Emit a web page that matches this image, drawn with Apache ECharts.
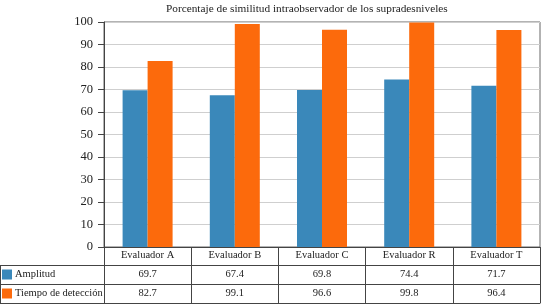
<!DOCTYPE html>
<html lang="es">
<head>
    <meta charset="UTF-8">
    <title>Porcentaje de similitud</title>
    <script src="https://cdn.jsdelivr.net/npm/echarts@6/dist/echarts.min.js"></script>
    <style>
        *{margin:0;padding:0;box-sizing:border-box;}
        html,body{width:542px;height:307px;background:#fff;overflow:hidden;}
        #main{width:542px;height:307px;}
    </style>
</head>
<body>
<div id="main"></div>
<script>
    // datos
    var evaluadores = ["Evaluador A","Evaluador B","Evaluador C","Evaluador R","Evaluador T"]
    var amplitud = [69.7, 67.4, 69.8, 74.4, 71.7]
    var tiempo = [82.7, 99.1, 96.6, 99.8, 96.4]
    var serieNombres = ["Amplitud", "Tiempo de detección"]
    var colores = ["#3A88BA", "#FC6A0C"]

    var fuente = "Liberation Serif"
    var lineaTabla = "#444"
    var filaH = 19   // alto de cada fila de la tabla

    var myChart = echarts.init(document.getElementById("main"))

    // cada fila de la tabla es un eje x desplazado hacia abajo
    function filaEje(offset, labels, margin) {
        return {
            type: "category",
            data: evaluadores,
            position: "bottom",
            offset: offset,
            axisLine: {show: true, lineStyle: {color: lineaTabla, width: 1}},
            axisTick: {show: labels !== null, length: filaH, interval: 0, lineStyle: {color: lineaTabla}},
            axisLabel: labels === null ? {show: false} : {
                show: true, interval: 0, margin: margin,
                fontFamily: fuente, fontSize: 10.5, color: "#222",
                formatter: function (v, i) { return labels ? labels[i].toFixed(1) : v }
            },
            splitLine: {show: false}
        }
    }

    function leyenda(i, top) {
        return {
            data: [serieNombres[i]],
            left: 2, top: top, padding: 0,
            itemWidth: 10, itemHeight: 10,
            icon: "rect",
            textStyle: {fontFamily: fuente, fontSize: 10.5, color: "#222", padding: [0, 0, 0, -2]},
            selectedMode: false
        }
    }

    var option = {
        animation: false,
        title: {
            text: "Porcentaje de similitud intraobservador de los supradesniveles",
            left: 166, top: 4, padding: 0,
            textStyle: {fontFamily: fuente, fontSize: 11.3, fontWeight: "normal", color: "#222"}
        },
        legend: [leyenda(0, 269), leyenda(1, 288)],
        grid: {
            left: 104, right: 2, top: 22, bottom: 60,
            show: true, borderColor: "#666", borderWidth: 1
        },
        xAxis: [
            filaEje(0, false, 3),
            filaEje(filaH - 1, amplitud, 4),
            filaEje(2 * filaH - 1, tiempo, 4),
            filaEje(3 * filaH - 1, null, 0)
        ],
        yAxis: {
            type: "value", min: 0, max: 100, interval: 10,
            axisLine: {show: true, lineStyle: {color: lineaTabla}},
            axisTick: {show: true, length: 6, lineStyle: {color: lineaTabla}},
            axisLabel: {fontFamily: fuente, fontSize: 12.5, color: "#222", margin: 11},
            splitLine: {lineStyle: {color: "#cfcfcf"}}
        },
        // celdas de la columna de leyenda
        graphic: [
            {type: "line", shape: {x1: 0, y1: 265.5, x2: 104, y2: 265.5}, style: {stroke: lineaTabla}},
            {type: "line", shape: {x1: 0, y1: 284.5, x2: 104, y2: 284.5}, style: {stroke: lineaTabla}},
            {type: "line", shape: {x1: 0, y1: 303.5, x2: 104, y2: 303.5}, style: {stroke: lineaTabla}},
            {type: "line", shape: {x1: 0.5, y1: 265, x2: 0.5, y2: 304}, style: {stroke: lineaTabla}}
        ],
        series: [
            {name: serieNombres[0], type: "bar", data: amplitud, barWidth: 25, barGap: "0%", itemStyle: {color: colores[0]}},
            {name: serieNombres[1], type: "bar", data: tiempo, barWidth: 25, barGap: "0%", itemStyle: {color: colores[1]}}
        ]
    }
    myChart.setOption(option)
</script>
</body>
</html>
